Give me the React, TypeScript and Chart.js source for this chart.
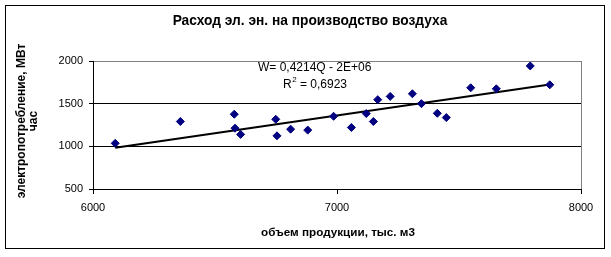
import React, { useEffect, useRef } from "react";
import { Chart, registerables } from "chart.js";

Chart.register(...registerables);

const productionQ: number[] = [
  6091, 6358, 6579, 6582, 6605, 6749, 6754, 6810, 6880, 6986, 7059, 7120,
  7149, 7167, 7218, 7309, 7346, 7411, 7448, 7548, 7653, 7792, 7872,
];
const energyW: number[] = [
  1035, 1291, 1376, 1213, 1140, 1317, 1123, 1201, 1190, 1352, 1221, 1384,
  1291, 1547, 1585, 1616, 1500, 1387, 1337, 1686, 1674, 1942, 1721,
];
const trendQ: number[] = [6091, 7872];
const trendW: number[] = [984, 1724];

const titleText = "Расход эл. эн. на производство воздуха";
const xTitle = "объем продукции, тыс. м3";
const yTitleLines = ["электропотребление, МВт", "час"];
const eqText = "W= 0,4214Q - 2E+06";
const r2Text = " = 0,6923";

const FONT = "Arial, 'Liberation Sans', sans-serif";

export default function App() {
  const ref = useRef<HTMLCanvasElement | null>(null);

  useEffect(() => {
    if (!ref.current) return;
    const decor = {
      id: "decor",
      beforeDraw(chart: any) {
        const { ctx } = chart;
        ctx.save();
        ctx.fillStyle = "#fff";
        ctx.fillRect(0, 0, chart.width, chart.height);
        ctx.restore();
      },
      afterDraw(chart: any) {
        const { ctx, chartArea } = chart;
        ctx.save();
        // right plot border
        ctx.strokeStyle = "#808080";
        ctx.lineWidth = 1;
        ctx.beginPath();
        ctx.moveTo(Math.round(chartArea.right) + 0.5, chartArea.top);
        ctx.lineTo(Math.round(chartArea.right) + 0.5, chartArea.bottom);
        ctx.stroke();
        // outer border
        ctx.strokeStyle = "#000";
        ctx.strokeRect(5.5, 5.5, 599, 243);
        ctx.fillStyle = "#000";
        // title
        ctx.font = `bold 13.75px ${FONT}`;
        ctx.textAlign = "center";
        ctx.textBaseline = "middle";
        ctx.fillText(titleText, 310, 21);
        // x title
        ctx.font = `bold 11.7px ${FONT}`;
        ctx.fillText(xTitle, 338, 233);
        // y title
        ctx.save();
        ctx.font = `bold 12px ${FONT}`;
        ctx.translate(22, 121);
        ctx.rotate(-Math.PI / 2);
        ctx.fillText(yTitleLines[0], 0, 0);
        ctx.fillText(yTitleLines[1], 0, 11.5);
        ctx.restore();
        // equation
        ctx.font = `12px ${FONT}`;
        ctx.textAlign = "left";
        ctx.fillText(eqText, 258, 68);
        ctx.fillText("R", 283, 85);
        const rw = ctx.measureText("R").width;
        ctx.font = `8px ${FONT}`;
        ctx.fillText("2", 283 + rw + 0.5, 80);
        const sw = ctx.measureText("2").width;
        ctx.font = `12px ${FONT}`;
        ctx.fillText(r2Text, 283 + rw + sw + 0.5, 85);
        ctx.restore();
      },
    };

    const chart = new Chart(ref.current, {
      type: "scatter",
      data: {
        datasets: [
          {
            label: "data",
            data: productionQ.map((q, i) => ({ x: q, y: energyW[i] })),
            pointStyle: "rectRot",
            pointRadius: 4,
            backgroundColor: "#000080",
            borderColor: "#000080",
            borderWidth: 1,
          },
          {
            label: "trend",
            type: "line",
            data: trendQ.map((q, i) => ({ x: q, y: trendW[i] })),
            borderColor: "#000",
            borderWidth: 2,
            pointRadius: 0,
            fill: false,
          } as any,
        ],
      },
      options: {
        responsive: false,
        animation: false,
        layout: { padding: { left: 0, right: 30, top: 61, bottom: 0 } },
        plugins: {
          legend: { display: false },
          title: { display: false },
          tooltip: { enabled: false },
        },
        scales: {
          x: {
            type: "linear",
            min: 6000,
            max: 8000,
            afterFit: (s: any) => {
              s.height = 68;
            },
            ticks: {
              stepSize: 1000,
              color: "#000",
              font: { family: FONT, size: 11 },
              padding: 7,
              maxRotation: 0,
              callback: (v: any) => String(v),
            },
            grid: {
              drawOnChartArea: false,
              drawTicks: true,
              tickLength: 5,
              tickColor: "#000",
            },
            border: { color: "#000" },
          },
          y: {
            type: "linear",
            min: 500,
            max: 2000,
            afterFit: (s: any) => {
              s.width = 93;
            },
            ticks: {
              stepSize: 500,
              color: "#000",
              font: { family: FONT, size: 11 },
              padding: 6,
              callback: (v: any) => String(v),
            },
            grid: {
              color: (c: any) => (c.tick && c.tick.value === 2000 ? "#808080" : "#000"),
              tickColor: "#000",
              tickLength: 4,
            },
            border: { color: "#000" },
          },
        },
      },
      plugins: [decor],
    } as any);
    return () => chart.destroy();
  }, []);

  return (
    <div style={{ position: "fixed", left: 0, top: 0, width: 611, height: 257 }}>
      <canvas ref={ref} width={611} height={257} style={{ display: "block" }} />
    </div>
  );
}
